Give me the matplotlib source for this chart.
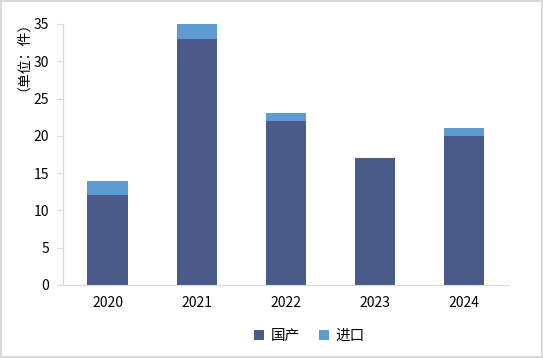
import matplotlib.pyplot as plt
import numpy as np

plt.rcParams['font.family'] = ['Noto Sans CJK SC', 'DejaVu Sans']

years = ['2020', '2021', '2022', '2023', '2024']
domestic = [12, 33, 22, 17, 20]
imported = [2, 2, 1, 0, 1]

fig = plt.figure(figsize=(5.43, 3.58), dpi=100)
fig.patch.set_edgecolor('#d9d9d9')
fig.patch.set_linewidth(1.5)
ax = fig.add_axes([0.116, 0.204, 0.82, 0.729])

x = np.arange(len(years))
ax.bar(x, domestic, width=0.45, color='#4a5a89', label='国产')
ax.bar(x, imported, width=0.45, bottom=domestic, color='#5f9bd3', label='进口')

ax.set_xlim(-0.5, len(years) - 0.5)
ax.set_ylim(0, 35)
ax.set_yticks(range(0, 36, 5))
ax.set_xticks(x)
ax.set_xticklabels(years)
ax.tick_params(axis='y', length=4, color='#d9d9d9', labelsize=10, pad=6)
ax.tick_params(axis='x', length=0, labelsize=10, pad=8)

for side in ['top', 'right']:
    ax.spines[side].set_visible(False)
for side in ['left', 'bottom']:
    ax.spines[side].set_color('#d9d9d9')

fig.text(0.029, 0.862, '（单位：件）', rotation=90, ha='center', va='center', fontsize=10)

ax.legend(loc='center', bbox_to_anchor=(0.554, -0.195), ncol=2, frameon=False,
          fontsize=10.5, handlelength=0.65, handleheight=0.65, handletextpad=0.5,
          columnspacing=1.3)

fig.savefig('out.png', dpi=100, edgecolor=fig.get_edgecolor())
